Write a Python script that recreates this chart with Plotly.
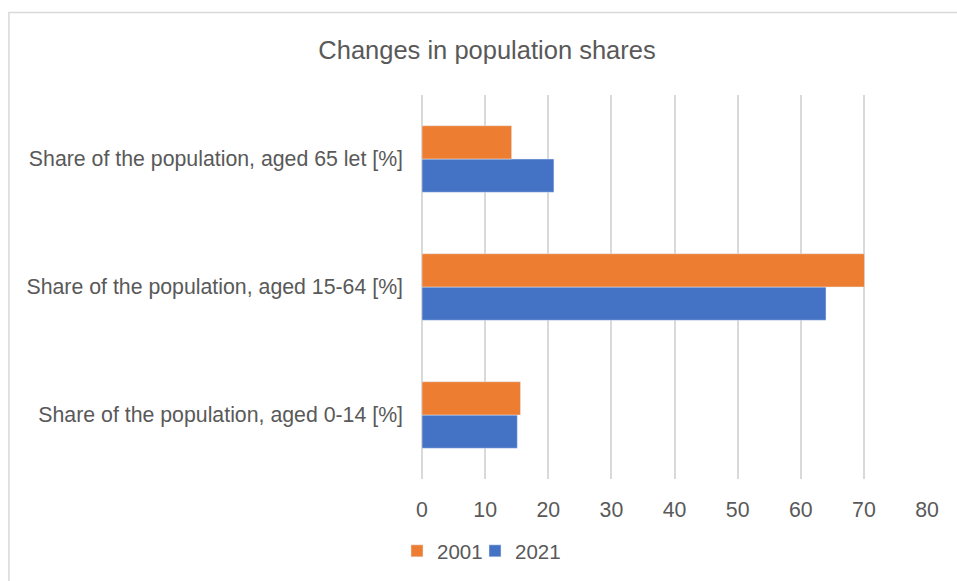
import plotly.graph_objects as go

categories = [
    "Share of the population, aged 0-14 [%]",
    "Share of the population, aged 15-64 [%]",
    "Share of the population, aged 65 let [%]",
]
values_2001 = [15.6, 70.1, 14.2]
values_2021 = [15.1, 64.0, 20.9]
x_ticks = [0, 10, 20, 30, 40, 50, 60, 70, 80]

ORANGE = "#ED7D31"
BLUE = "#4472C4"
GREY_TXT = "#595959"
GRID = "#d9d9d9"
FONT = "Liberation Sans, Arial, sans-serif"

W, H = 957, 581
ML, MR, MT, MB = 421.5, 30, 95, 102.4
PW = W - ML - MR
PH = H - MT - MB

fig = go.Figure()
fig.add_trace(go.Bar(y=categories, x=values_2021, name="2021", orientation="h",
                     marker=dict(color=BLUE), legend="legend2"))
fig.add_trace(go.Bar(y=categories, x=values_2001, name="2001", orientation="h",
                     marker=dict(color=ORANGE), legend="legend"))

def px_x(p):
    return (p - ML) / PW

def px_y(p):
    return (H - MB - p) / PH

legend_common = dict(orientation="h", xref="container", yref="container",
                     xanchor="left", y=1 - 551 / H, yanchor="middle",
                     font=dict(size=20.5, color=GREY_TXT), itemwidth=30,
                     bgcolor="rgba(0,0,0,0)")

fig.update_layout(
    width=W, height=H,
    margin=dict(l=ML, r=MR, t=MT, b=MB, pad=0, autoexpand=False),
    paper_bgcolor="white", plot_bgcolor="white",
    barmode="group", bargap=0.48, bargroupgap=0,
    font=dict(family=FONT, color=GREY_TXT, size=21),
    title=dict(text="Changes in population shares", x=487 / W, xref="container",
               xanchor="center", y=1 - 50 / H, yref="container", yanchor="middle",
               font=dict(size=25.5, color=GREY_TXT, family=FONT)),
    xaxis=dict(range=[0, 80], tickvals=x_ticks, showgrid=True, gridcolor=GRID,
               gridwidth=1.5, zeroline=True, zerolinecolor=GRID, zerolinewidth=1.5,
               showline=False, ticks="", ticklabelstandoff=16, automargin=False,
               tickfont=dict(size=21.3, color=GREY_TXT)),
    yaxis=dict(showgrid=False, zeroline=False, showline=False, ticks="",
               ticklabelstandoff=18, automargin=False,
               tickfont=dict(size=21.3, color=GREY_TXT)),
    legend=dict(x=397 / W, **legend_common),
    legend2=dict(x=475 / W, **legend_common),
    showlegend=True,
    shapes=[
        dict(type="rect", xref="paper", yref="paper",
             x0=px_x(8), x1=px_x(1000), y0=px_y(640), y1=px_y(12.5),
             line=dict(color=GRID, width=1.5), fillcolor="rgba(0,0,0,0)", layer="below"),
    ],
)

fig.write_html("out.html")
